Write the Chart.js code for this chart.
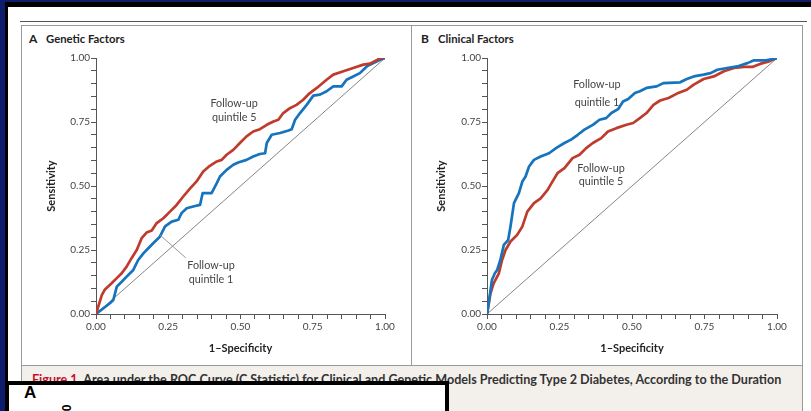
<!DOCTYPE html>
<html>
<head>
<meta charset="utf-8">
<script src="https://cdn.jsdelivr.net/npm/chart.js@4.4.1/dist/chart.umd.min.js"></script>
<style>
  body { margin: 0; width: 811px; height: 411px; overflow: hidden; background: #0d1d6c; font-family: Lato, 'Open Sans', sans-serif; }
  .abs { position: absolute; }
  #frame { left: 5px; top: 2px; right: 0; bottom: 0; background: #000; }
  #page { left: 8px; top: 7px; right: 0; bottom: 0; background: #fff; }
  #rule { left: 20px; top: 21px; width: 787px; height: 1px; background: #555; }
  #box { left: 21px; top: 25px; width: 782px; height: 341px; box-sizing: border-box; border: 1px solid #9a9a9a; }
  #divider { left: 411px; top: 25px; width: 1px; height: 341px; background: #9a9a9a; }
  #caption { left: 21px; top: 366px; width: 782px; height: 50px; box-sizing: border-box; background: #f3f0eb; border-left: 1px solid #9a9a9a; border-right: 1px solid #9a9a9a; }
  #captext { left: 32px; top: 372px; font-size: 12.6px; font-weight: bold; color: #333; white-space: nowrap; line-height: 16px; }
  #captext span { color: #c8102e; }
  .ptitle { top: 33px; font-size: 11.3px; font-weight: bold; color: #222; line-height: 12px; white-space: nowrap; }
  .pletter { font-size: 12px; }
  #overlay { left: 5px; top: 381px; width: 444px; height: 60px; box-sizing: border-box; background: #fff; border: 4px solid #000; }
  #ovA { left: 24px; top: 383px; font-family: 'Liberation Sans', Arial, sans-serif; font-weight: bold; font-size: 17px; color: #000; }
  #ov0 { left: 64px; top: 401px; font-family: 'Liberation Sans', Arial, sans-serif; font-weight: bold; font-size: 12px; color: #000; transform: rotate(-90deg); }
  canvas { position: absolute; }
</style>
</head>
<body>
<div id="frame" class="abs"></div>
<div id="page" class="abs"></div>
<div id="rule" class="abs"></div>
<div id="box" class="abs"></div>
<div id="divider" class="abs"></div>
<div id="caption" class="abs"></div>
<div id="captext" class="abs"><span>Figure 1.</span> Area under the ROC Curve (C Statistic) for Clinical and Genetic Models Predicting Type 2 Diabetes, According to the Duration</div>
<div class="abs ptitle pletter" style="left:29px">A</div>
<div class="abs ptitle" style="left:46px">Genetic Factors</div>
<div class="abs ptitle pletter" style="left:421px">B</div>
<div class="abs ptitle" style="left:438px">Clinical Factors</div>
<canvas id="chartA" width="389" height="338" style="left:22px;top:26px"></canvas>
<canvas id="chartB" width="390" height="338" style="left:412px;top:26px"></canvas>
<div id="overlay" class="abs"></div>
<div id="ovA" class="abs">A</div>
<div id="ov0" class="abs">0</div>

<script>
// ROC points: [1-specificity, sensitivity]
const geneticQ5 = [
  [0, 0], [0.02, 0.074], [0.031, 0.096], [0.054, 0.12], [0.072, 0.14], [0.089, 0.159],
  [0.106, 0.185], [0.123, 0.218], [0.141, 0.25], [0.158, 0.296], [0.175, 0.318], [0.193, 0.326],
  [0.21, 0.355], [0.233, 0.374], [0.256, 0.40], [0.279, 0.426], [0.302, 0.459], [0.325, 0.49],
  [0.348, 0.518], [0.371, 0.557], [0.394, 0.579], [0.418, 0.596], [0.435, 0.602], [0.452, 0.622],
  [0.475, 0.641], [0.498, 0.668], [0.521, 0.694], [0.544, 0.713], [0.567, 0.722], [0.591, 0.739],
  [0.614, 0.752], [0.631, 0.759], [0.648, 0.785], [0.671, 0.804], [0.694, 0.817], [0.717, 0.837],
  [0.74, 0.863], [0.764, 0.883], [0.798, 0.915], [0.821, 0.935], [0.856, 0.948], [0.89, 0.961],
  [0.925, 0.974], [0.948, 0.978], [0.971, 0.991], [0.983, 1], [1, 1]
];
const geneticQ1 = [
  [0, 0], [0.048, 0.042], [0.06, 0.055], [0.072, 0.107], [0.089, 0.126], [0.106, 0.146],
  [0.129, 0.172], [0.146, 0.211], [0.164, 0.237], [0.181, 0.257], [0.204, 0.283], [0.221, 0.302],
  [0.239, 0.342], [0.262, 0.361], [0.285, 0.368], [0.296, 0.394], [0.314, 0.413], [0.343, 0.422],
  [0.36, 0.426], [0.369, 0.472], [0.4, 0.472], [0.418, 0.511], [0.429, 0.537], [0.452, 0.563],
  [0.475, 0.583], [0.492, 0.592], [0.521, 0.602], [0.544, 0.615], [0.567, 0.625], [0.585, 0.628],
  [0.591, 0.668], [0.608, 0.70], [0.637, 0.707], [0.666, 0.717], [0.677, 0.722], [0.689, 0.759],
  [0.706, 0.785], [0.729, 0.817], [0.752, 0.853], [0.775, 0.857], [0.798, 0.87], [0.821, 0.889],
  [0.85, 0.889], [0.867, 0.915], [0.89, 0.928], [0.913, 0.941], [0.937, 0.967], [0.948, 0.974],
  [0.96, 0.98], [0.983, 0.993], [1, 1]
];
const clinicalQ1 = [
  [0, 0], [0.006, 0.042], [0.017, 0.133], [0.027, 0.159], [0.035, 0.172], [0.046, 0.211],
  [0.058, 0.27], [0.073, 0.289], [0.081, 0.342], [0.093, 0.433], [0.11, 0.472], [0.122, 0.518],
  [0.133, 0.537], [0.145, 0.576], [0.162, 0.602], [0.185, 0.615], [0.214, 0.628], [0.238, 0.648],
  [0.267, 0.668], [0.29, 0.681], [0.313, 0.70], [0.336, 0.72], [0.365, 0.739], [0.388, 0.759],
  [0.411, 0.765], [0.429, 0.785], [0.452, 0.80], [0.469, 0.83], [0.487, 0.84], [0.51, 0.863],
  [0.527, 0.87], [0.55, 0.883], [0.585, 0.889], [0.608, 0.902], [0.666, 0.905], [0.689, 0.918],
  [0.713, 0.928], [0.747, 0.935], [0.771, 0.941], [0.794, 0.954], [0.828, 0.961], [0.863, 0.967],
  [0.898, 0.98], [0.921, 0.991], [0.962, 0.991], [0.985, 0.996], [1, 1]
];
const clinicalQ5 = [
  [0, 0], [0.012, 0.081], [0.023, 0.12], [0.041, 0.159], [0.052, 0.211], [0.064, 0.25],
  [0.081, 0.283], [0.104, 0.309], [0.122, 0.342], [0.139, 0.40], [0.162, 0.433], [0.185, 0.452],
  [0.209, 0.485], [0.226, 0.518], [0.243, 0.55], [0.267, 0.57], [0.295, 0.609], [0.319, 0.622],
  [0.342, 0.648], [0.365, 0.668], [0.394, 0.687], [0.417, 0.713], [0.446, 0.726], [0.481, 0.739],
  [0.504, 0.746], [0.527, 0.765], [0.55, 0.785], [0.574, 0.817], [0.597, 0.834], [0.626, 0.844],
  [0.655, 0.861], [0.689, 0.876], [0.713, 0.896], [0.747, 0.918], [0.782, 0.928], [0.817, 0.948],
  [0.852, 0.961], [0.886, 0.965], [0.915, 0.965], [0.944, 0.978], [0.973, 0.987], [1, 1]
];
const reference = [[0, 0], [1, 1]];
const majorTicks = ['0.00', '0.25', '0.50', '0.75', '1.00'];

const RED = '#bf3b2c';
const BLUE = '#1673bd';
const AXIS = '#555';
const FONT = "Lato, 'Open Sans', sans-serif";

function toPoints(arr) {
  return arr.map(p => ({ x: p[0], y: p[1] }));
}

function tickLabel(v) {
  const s = v.toFixed(2);
  return majorTicks.includes(s) ? s : '';
}

// Curve labels placed in data units
const curveLabels = {
  id: 'curveLabels',
  afterDatasetsDraw(chart, args, opts) {
    const { ctx, scales: { x, y } } = chart;
    ctx.save();
    (opts.lines || []).forEach(l => {
      ctx.strokeStyle = '#999';
      ctx.lineWidth = 1;
      ctx.beginPath();
      ctx.moveTo(x.getPixelForValue(l[0]), y.getPixelForValue(l[1]));
      ctx.lineTo(x.getPixelForValue(l[2]), y.getPixelForValue(l[3]));
      ctx.stroke();
    });
    ctx.font = '10.8px ' + FONT;
    ctx.fillStyle = '#444';
    ctx.textAlign = 'center';
    ctx.textBaseline = 'middle';
    (opts.texts || []).forEach(t => {
      ctx.fillText(t.text, x.getPixelForValue(t.x), y.getPixelForValue(t.y));
    });
    ctx.restore();
  }
};

function makeChart(id, first, second, yWidth, rightPad, labels) {
  const axisBase = {
    type: 'linear',
    min: 0,
    max: 1,
    border: { display: true, color: AXIS, width: 1 },
    grid: { drawOnChartArea: false, drawTicks: true, tickLength: 5, color: AXIS },
    ticks: {
      stepSize: 0.05,
      autoSkip: false,
      maxRotation: 0,
      color: '#444',
      font: { family: FONT, size: 10 },
      callback: tickLabel
    }
  };
  return new Chart(document.getElementById(id), {
    type: 'scatter',
    data: {
      datasets: [
        { data: toPoints(first.data), borderColor: first.color, borderWidth: 2.7, showLine: true, pointRadius: 0, borderJoinStyle: 'round' },
        { data: toPoints(second.data), borderColor: second.color, borderWidth: 2.7, showLine: true, pointRadius: 0, borderJoinStyle: 'round' },
        { data: toPoints(reference), borderColor: '#666', borderWidth: 0.8, showLine: true, pointRadius: 0 }
      ]
    },
    options: {
      responsive: false,
      animation: false,
      layout: { padding: { top: 32, right: rightPad, left: 0, bottom: 0 } },
      plugins: {
        legend: { display: false },
        tooltip: { enabled: false },
        curveLabels: labels
      },
      scales: {
        x: Object.assign({}, axisBase, {
          ticks: Object.assign({}, axisBase.ticks, { padding: 2 }),
          title: { display: true, text: '1\u2013Specificity', color: '#222', font: { family: FONT, size: 11, weight: 'bold' }, padding: { top: 0, bottom: 9 } },
          afterFit(s) { s.height = 50; }
        }),
        y: Object.assign({}, axisBase, {
          ticks: Object.assign({}, axisBase.ticks, { padding: 1 }),
          title: { display: true, text: 'Sensitivity', color: '#222', font: { family: FONT, size: 11, weight: 'bold' }, padding: { top: 23, bottom: 0 } },
          afterFit(s) { s.width = yWidth; }
        })
      }
    },
    plugins: [curveLabels]
  });
}

makeChart('chartA',
  { data: geneticQ5, color: RED },
  { data: geneticQ1, color: BLUE },
  74, 26,
  {
    texts: [
      { text: 'Follow-up', x: 0.478, y: 0.824 },
      { text: 'quintile 5', x: 0.478, y: 0.766 },
      { text: 'Follow-up', x: 0.398, y: 0.1875 },
      { text: 'quintile 1', x: 0.398, y: 0.133 }
    ],
    lines: [[0.221, 0.309, 0.311, 0.219]]
  });

makeChart('chartB',
  { data: clinicalQ1, color: BLUE },
  { data: clinicalQ5, color: RED },
  75, 25,
  {
    texts: [
      { text: 'Follow-up', x: 0.379, y: 0.895 },
      { text: 'quintile 1', x: 0.379, y: 0.828 },
      { text: 'Follow-up', x: 0.393, y: 0.570 },
      { text: 'quintile 5', x: 0.393, y: 0.516 }
    ]
  });
</script>
</body>
</html>
